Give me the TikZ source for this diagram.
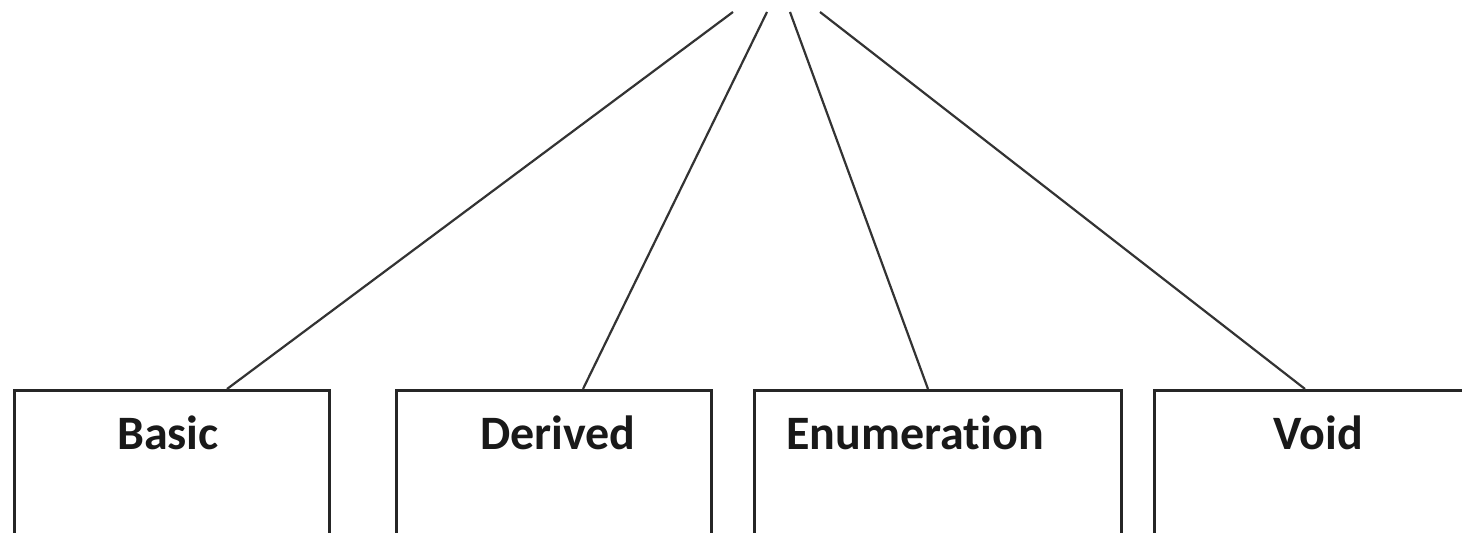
\documentclass[tikz,border=0pt]{standalone}
\usepackage{fontspec}
\setmainfont{Carlito}[Ligatures=NoCommon]
\begin{document}
\begin{tikzpicture}[x=0.5pt,y=-0.5pt,
  box/.style={draw=black!85,line width=1.4pt,fill=white,inner sep=0pt,anchor=north west},
  lbl/.style={anchor=base,inner sep=0pt,font=\fontsize{24}{28}\selectfont\bfseries,text=black!90},
  link/.style={draw=black!80,line width=1.1pt}]
\useasboundingbox (0,0) rectangle (1462,533);
\clip (0,0) rectangle (1462,533);
\fill[white] (0,0) rectangle (1462,533);
% boxes
\node[box,minimum width=157.5pt,minimum height=90pt] (basic) at (13,389) {};
\node[box,minimum width=157.5pt,minimum height=90pt] (derived) at (395,389) {};
\node[box,minimum width=183.5pt,minimum height=90pt] (enum) at (753,389) {};
\node[box,minimum width=170pt,minimum height=90pt] (void) at (1153,389) {};
% labels
\node[lbl] (basicT) at (168,450) {Basic};
\node[lbl] (derivedT) at (558,450) {Derived};
\node[lbl] (enumT) at (915,450) {Enumeration};
\node[lbl] (voidT) at (1318,450) {Void};
% free ends at top
\coordinate (t1) at (733,12);
\coordinate (t2) at (767,12);
\coordinate (t3) at (790,12);
\coordinate (t4) at (820,12);
\draw[link] (t1) -- ([xshift=107pt]basic.north west);
\draw[link] (t2) -- ([xshift=94pt]derived.north west);
\draw[link] (t3) -- ([xshift=87.5pt]enum.north west);
\draw[link] (t4) -- ([xshift=76pt]void.north west);
\end{tikzpicture}
\end{document}
